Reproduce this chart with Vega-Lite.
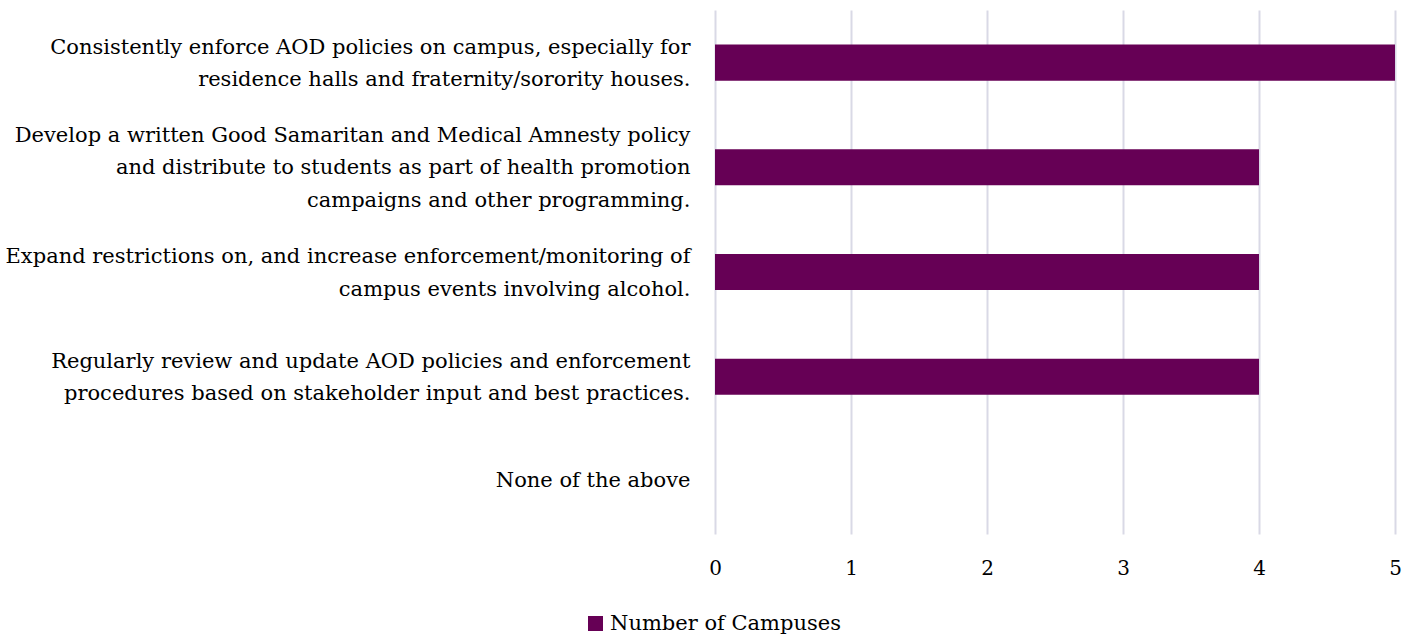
{
  "$schema": "https://vega.github.io/schema/vega-lite/v6.json",
  "width": 680,
  "height": 524,
  "autosize": {"type": "none"},
  "padding": {"left": 715, "top": 10, "right": 18, "bottom": 103},
  "background": "white",
  "config": {
    "view": {"stroke": null},
    "font": "DejaVu Serif"
  },
  "data": {
    "values": [
      {"strategy": "Consistently enforce AOD policies on campus, especially for|residence halls and fraternity/sorority houses.", "campuses": 5, "series": "Number of Campuses"},
      {"strategy": "Develop a written Good Samaritan and Medical Amnesty policy|and distribute to students as part of health promotion|campaigns and other programming.", "campuses": 4, "series": "Number of Campuses"},
      {"strategy": "Expand restrictions on, and increase enforcement/monitoring of|campus events involving alcohol.", "campuses": 4, "series": "Number of Campuses"},
      {"strategy": "Regularly review and update AOD policies and enforcement|procedures based on stakeholder input and best practices.", "campuses": 4, "series": "Number of Campuses"},
      {"strategy": "None of the above", "campuses": 0, "series": "Number of Campuses"}
    ]
  },
  "mark": {"type": "bar"},
  "encoding": {
    "y": {
      "field": "strategy",
      "type": "nominal",
      "sort": null,
      "scale": {"paddingInner": 0.655, "paddingOuter": 0.33},
      "axis": {
        "title": null,
        "domain": false,
        "ticks": false,
        "labelExpr": "split(datum.label, '|')",
        "labelFont": "DejaVu Serif",
        "labelFontSize": 21,
        "labelColor": "#000000",
        "labelPadding": 25,
        "labelLineHeight": 32.5,
        "labelLimit": 800,
        "labelAlign": "right",
        "labelOffset": {
          "condition": [
            {"test": "length(split(datum.value, '|')) == 3", "value": -31.5},
            {"test": "length(split(datum.value, '|')) == 2", "value": -15}
          ],
          "value": 0
        }
      }
    },
    "x": {
      "field": "campuses",
      "type": "quantitative",
      "scale": {"domain": [0, 5], "nice": false},
      "axis": {
        "title": null,
        "values": [0, 1, 2, 3, 4, 5],
        "domain": false,
        "ticks": false,
        "grid": true,
        "gridColor": "#d9d9e6",
        "gridWidth": 2,
        "labelFont": "DejaVu Serif",
        "labelFontSize": 20,
        "labelColor": "#000000",
        "labelPadding": 24,
        "labelFlush": false
      }
    },
    "color": {
      "field": "series",
      "type": "nominal",
      "scale": {"range": ["#660055"]},
      "legend": {
        "title": null,
        "orient": "none",
        "legendX": -130,
        "legendY": 603,
        "symbolType": "square",
        "symbolSize": 225,
        "symbolStrokeWidth": 0,
        "labelFont": "DejaVu Serif",
        "labelFontSize": 21,
        "labelColor": "#000000",
        "labelOffset": 4,
        "labelLimit": 400
      }
    }
  }
}
